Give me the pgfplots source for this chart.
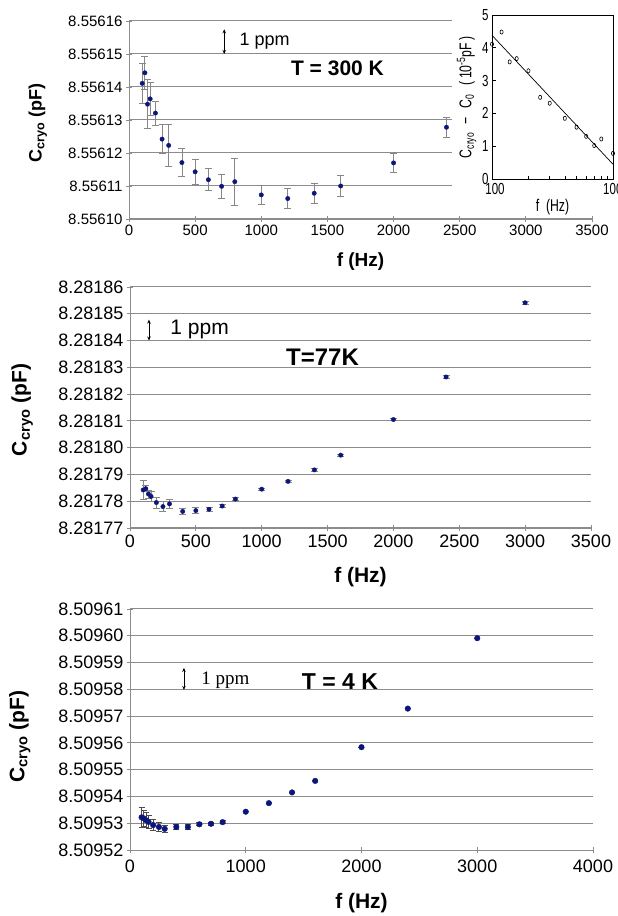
\documentclass[border=0pt]{standalone}
\usepackage{fontspec}
\setmainfont{Liberation Sans}
\setsansfont{Liberation Sans}
\newfontfamily\narrowfont[FakeStretch=0.72]{Liberation Sans}
\newfontfamily\seriffont{Liberation Serif}
\usepackage{pgfplots}
\pgfplotsset{compat=1.18}
\usetikzlibrary{arrows.meta}

\definecolor{pt}{RGB}{12,22,122}
\definecolor{grd}{RGB}{140,140,140}
\definecolor{ebar}{RGB}{135,135,135}

% y values are stored as offsets in units of 1e-5 pF (TeX cannot resolve 8.55614 vs 8.55615)
\pgfplotsset{
  excel/.style={
    scale only axis, anchor=south west,
    axis lines*=left, axis line style={grd, line width=0.9pt},
    ymajorgrids, grid style={grd, line width=1pt},
    tick align=center, major tick length=6pt, tick style={grd, line width=0.9pt},
    xmin=0,
    /pgf/number format/assume math mode=true,
    /pgf/number format/1000 sep={},
    clip=false,
  },
  dots/.style={only marks, mark=*, mark size=#1, color=pt, mark options={fill=pt},
    error bars/.cd, y dir=both, y explicit,
    error bar style={ebar, line width=0.8pt},
    error mark options={rotate=90, ebar, mark size=3.5pt, line width=0.8pt}},
}
\tikzset{ppm/.style={{Stealth[length=4pt,width=3.5pt]}-{Stealth[length=4pt,width=3.5pt]}, line width=0.8pt, black}}

\begin{document}
\begin{tikzpicture}
\useasboundingbox (0,0) rectangle (618pt,916pt);

% ---------------- T = 300 K ----------------
\begin{axis}[excel,
  at={(129pt,697pt)}, width=463pt, height=198pt,
  xmax=3500, ymin=10, ymax=16,
  xtick={0,500,...,3500}, ytick={10,...,16},
  yticklabels={8.55610,8.55611,8.55612,8.55613,8.55614,8.55615,8.55616},
  ticklabel style={font=\fontsize{15}{15}\selectfont},
  xlabel={f (Hz)}, ylabel={C\textsubscript{cryo} (pF)},
  xlabel style={font=\bfseries\fontsize{19}{19}\selectfont, at={(axis description cs:0.5,-0.217)}, anchor=center},
  ylabel style={font=\bfseries\fontsize{18}{18}\selectfont, at={(axis description cs:-0.197,0.485)}, anchor=center},
]
\addplot+[dots=2.2pt] coordinates {
 (100,14.11) +- (0,0.62)
 (120,14.43) +- (0,0.50)
 (140,13.48) +- (0,0.74)
 (160,13.64) +- (0,0.50)
 (200,13.21) +- (0,0.36)
 (250,12.42) +- (0,0.44)
 (300,12.23) +- (0,0.63)
 (400,11.71) +- (0,0.42)
 (500,11.43) +- (0,0.37)
 (600,11.19) +- (0,0.33)
 (700,10.99) +- (0,0.36)
 (800,11.13) +- (0,0.71)
 (1000,10.73) +- (0,0.30)
 (1200,10.62) +- (0,0.31)
 (1400,10.78) +- (0,0.31)
 (1600,11.00) +- (0,0.32)
 (2000,11.70) +- (0,0.30)
 (2400,12.78) +- (0,0.30)
};
\draw[ppm] (axis cs:720,15) -- (axis cs:720,15.75);
\node[anchor=west, font=\fontsize{18}{18}\selectfont] at (axis cs:810,15.4) {1 ppm};
\node[font=\bfseries\fontsize{21}{21}\selectfont] at (axis cs:1576,14.58) {T = 300 K};
\end{axis}

% inset
\fill[white] (452pt,704pt) rectangle (618pt,916pt);
\begin{axis}[
  at={(492pt,737pt)}, anchor=south west, scale only axis, width=121pt, height=164pt,
  xmode=log, xmin=100, xmax=1000, ymin=0, ymax=5,
  ytick={0,...,5}, xtick={100,1000}, xticklabels={100,1000},
  ytick pos=left, xtick pos=bottom, tick align=inside,
  major tick length=4pt, minor tick length=3pt,
  axis line style={black, line width=0.7pt}, tick style={black, line width=0.6pt},
  /pgf/number format/assume math mode=true,
  ticklabel style={font=\narrowfont\fontsize{16}{16}\selectfont},
  xticklabel style={xshift=3pt, yshift=-1pt},
  xlabel={f\ \ (Hz)},
  ylabel={C\textsubscript{cryo}\enspace −\enspace C\textsubscript{0}\enspace(\,10\textsuperscript{-5}pF\,)},
  xlabel style={font=\narrowfont\fontsize{17}{17}\selectfont, at={(axis description cs:0.5,-0.17)}, anchor=center},
  ylabel style={font=\narrowfont\fontsize{17}{17}\selectfont, at={(axis description cs:-0.21,0.5)}, anchor=center},
  clip=false,
]
\addplot[only marks, mark=o, mark size=2.1pt, mark options={xscale=0.75, line width=0.6pt}, black] coordinates {
 (100,4.11) (120,4.48) (140,3.57) (160,3.67) (200,3.30) (250,2.49) (300,2.31)
 (400,1.85) (500,1.58) (600,1.30) (700,1.02) (800,1.22) (1000,0.78)
};
\addplot[black, line width=0.7pt] coordinates {(100,4.38) (1000,0.45)};
\end{axis}

% ---------------- T = 77 K ----------------
\begin{axis}[excel,
  at={(130pt,388pt)}, width=461pt, height=241pt,
  xmax=3500, ymin=7, ymax=16,
  xtick={0,500,...,3500}, ytick={7,...,16},
  yticklabels={8.28177,8.28178,8.28179,8.28180,8.28181,8.28182,8.28183,8.28184,8.28185,8.28186},
  ticklabel style={font=\fontsize{18}{18}\selectfont},
  xlabel={f (Hz)}, ylabel={C\textsubscript{cryo} (pF)},
  xlabel style={font=\bfseries\fontsize{21}{21}\selectfont, at={(axis description cs:0.5,-0.203)}, anchor=center},
  ylabel style={font=\bfseries\fontsize{21}{21}\selectfont, at={(axis description cs:-0.234,0.49)}, anchor=center},
]
\addplot+[dots=2.2pt] coordinates {
 (100,8.42) +- (0,0.37)
 (120,8.47) +- (0,0.12)
 (140,8.27) +- (0,0.15)
 (160,8.18) +- (0,0.20)
 (200,7.95) +- (0,0.20)
 (250,7.80) +- (0,0.18)
 (300,7.90) +- (0,0.15)
 (400,7.62) +- (0,0.13)
 (500,7.65) +- (0,0.12)
 (600,7.70) +- (0,0.08)
 (700,7.82) +- (0,0.06)
 (800,8.08) +- (0,0.05)
 (1000,8.45) +- (0,0.04)
 (1200,8.74) +- (0,0.04)
 (1400,9.17) +- (0,0.04)
 (1600,9.72) +- (0,0.04)
 (2000,11.05) +- (0,0.04)
 (2400,12.64) +- (0,0.05)
 (3000,15.41) +- (0,0.05)
};
\draw[ppm] (axis cs:144,14.0) -- (axis cs:144,14.78);
\node[anchor=west, font=\fontsize{21}{21}\selectfont] at (axis cs:280,14.43) {1 ppm};
\node[font=\bfseries\fontsize{24}{24}\selectfont] at (axis cs:1462,13.39) {T=77K};
\end{axis}

% ---------------- T = 4 K ----------------
\begin{axis}[excel,
  at={(130pt,66pt)}, width=463pt, height=241pt,
  xmax=4000, ymin=2, ymax=11,
  xtick={0,1000,...,4000}, ytick={2,...,11},
  yticklabels={8.50952,8.50953,8.50954,8.50955,8.50956,8.50957,8.50958,8.50959,8.50960,8.50961},
  ticklabel style={font=\fontsize{18}{18}\selectfont},
  xticklabel style={yshift=-3pt},
  xlabel={f (Hz)}, ylabel={C\textsubscript{cryo} (pF)},
  xlabel style={font=\bfseries\fontsize{21}{21}\selectfont, at={(axis description cs:0.5,-0.22)}, anchor=center},
  ylabel style={font=\bfseries\fontsize{21}{21}\selectfont, at={(axis description cs:-0.238,0.47)}, anchor=center},
]
\addplot+[dots=2.8pt, error bar style={black!70, line width=1pt}, error mark options={rotate=90, black!70, mark size=3pt, line width=1pt}] coordinates {
 (100,3.22) +- (0,0.38)
 (120,3.18) +- (0,0.30)
 (140,3.11) +- (0,0.28)
 (160,3.05) +- (0,0.25)
 (200,2.93) +- (0,0.20)
 (250,2.86) +- (0,0.17)
 (300,2.79) +- (0,0.13)
 (400,2.86) +- (0,0.10)
 (500,2.86) +- (0,0.10)
 (600,2.96) +- (0,0.06)
 (700,2.98) +- (0,0.05)
 (800,3.04) +- (0,0.05)
 (1000,3.43) +- (0,0)
 (1200,3.75) +- (0,0)
 (1400,4.15) +- (0,0)
 (1600,4.58) +- (0,0)
 (2000,5.84) +- (0,0)
 (2400,7.28) +- (0,0)
 (3000,9.91) +- (0,0)
};
\draw[ppm] (axis cs:466,7.98) -- (axis cs:466,8.8);
\node[anchor=west, font=\seriffont\fontsize{19}{19}\selectfont] at (axis cs:587,8.35) {1 ppm};
\node[font=\bfseries\fontsize{23}{23}\selectfont] at (axis cs:1814,8.28) {T = 4 K};
\end{axis}
\end{tikzpicture}
\end{document}
